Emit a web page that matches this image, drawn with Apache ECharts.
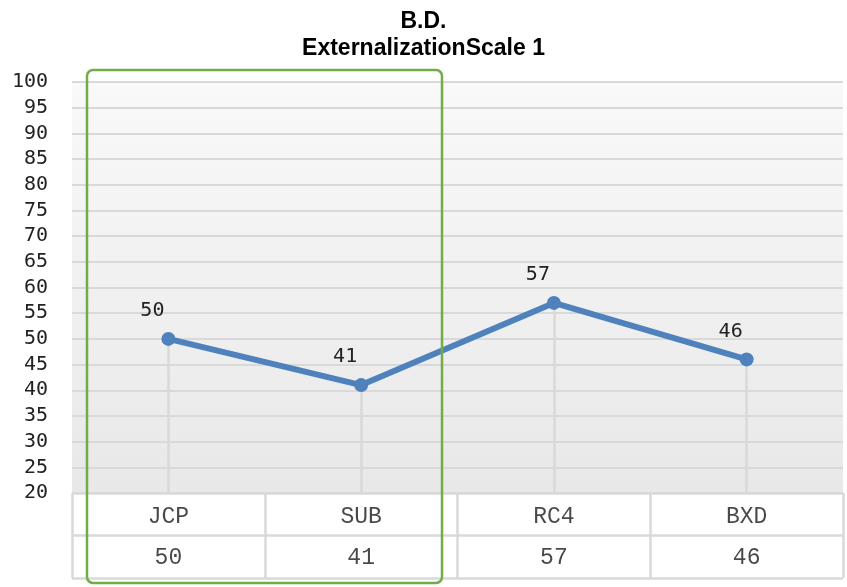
<!DOCTYPE html>
<html>
<head>
<meta charset="utf-8">
<script src="https://cdn.jsdelivr.net/npm/echarts@6/dist/echarts.min.js"></script>
<style>html,body{margin:0;padding:0;background:#fff}#c{width:847px;height:587px}</style>
</head>
<body>
<div id="c"></div>
<script>
var titleLines = ['B.D.', 'ExternalizationScale 1'];
var categories = ['JCP', 'SUB', 'RC4', 'BXD'];
var values = [50, 41, 57, 46];
var yMin = 20, yMax = 100, yStep = 5;

var chart = echarts.init(document.getElementById('c'));
var grey = '#d9d9d9';
var monoLbl = 'DejaVu Sans Mono';
var tableFont = 'Liberation Mono';

var dropLines = values.map(function (v, i) {
  return [{ coord: [categories[i], v] }, { coord: [categories[i], yMin] }];
});
var headerCells = categories.map(function (c) { return [c, 1.5]; });
var valueCells = values.map(function (v, i) { return [categories[i], 0.5, v]; });

chart.setOption({
  animation: false,
  title: {
    text: titleLines.join('\n'),
    left: 'center', top: 3,
    textStyle: { fontFamily: 'Liberation Sans', fontWeight: 'bold', fontSize: 23, lineHeight: 27, color: '#000' }
  },
  grid: [
    { left: 72, right: 4, top: 82, height: 411, show: true, borderWidth: 0,
      backgroundColor: new echarts.graphic.LinearGradient(0, 0, 0, 1, [
        { offset: 0, color: '#f9f9f9' }, { offset: 1, color: '#e8e8e8' }]) },
    { left: 72, right: 4, top: 493, height: 85, show: false }
  ],
  xAxis: [
    { type: 'category', gridIndex: 0, data: categories, boundaryGap: true,
      axisLine: { show: false }, axisTick: { show: false }, axisLabel: { show: false }, splitLine: { show: false } },
    { type: 'category', gridIndex: 1, data: categories, boundaryGap: true,
      axisLine: { show: false }, axisTick: { show: false }, axisLabel: { show: false },
      splitLine: { show: true, interval: 0, lineStyle: { color: grey, width: 2.5 } } }
  ],
  yAxis: [
    { type: 'value', gridIndex: 0, min: yMin, max: yMax, interval: yStep,
      axisLine: { show: false }, axisTick: { show: false },
      axisLabel: { fontFamily: monoLbl, fontSize: 20, color: '#222', margin: 24 },
      splitLine: { lineStyle: { color: grey, width: 2 } } },
    { type: 'value', gridIndex: 1, min: 0, max: 2, interval: 1,
      axisLine: { show: false }, axisTick: { show: false }, axisLabel: { show: false },
      splitLine: { show: true, lineStyle: { color: grey, width: 2.5 } } }
  ],
  series: [
    { type: 'line', xAxisIndex: 0, yAxisIndex: 0, data: values, z: 5,
      symbol: 'circle', symbolSize: 14,
      itemStyle: { color: '#4F81BD' },
      lineStyle: { color: '#4F81BD', width: 6 },
      label: { show: true, position: 'top', offset: [-16, -6], fontFamily: monoLbl, fontSize: 20, color: '#222' },
      markLine: { silent: true, symbol: 'none', label: { show: false }, z: 1,
        lineStyle: { color: grey, width: 2.5, type: 'solid' }, data: dropLines }
    },
    { type: 'scatter', xAxisIndex: 1, yAxisIndex: 1, data: headerCells, symbolSize: 0,
      label: { show: true, position: 'inside', offset: [0, 3], formatter: function (p) { return p.value[0]; },
        fontFamily: tableFont, fontSize: 23, color: '#1a1a1a' } },
    { type: 'scatter', xAxisIndex: 1, yAxisIndex: 1, data: valueCells, symbolSize: 0,
      label: { show: true, position: 'inside', offset: [0, 1], formatter: function (p) { return p.value[2]; },
        fontFamily: tableFont, fontSize: 23, color: '#1a1a1a' } }
  ],
  graphic: [
    { type: 'rect', z: 100, shape: { x: 87, y: 70, width: 355, height: 513, r: 6 },
      style: { fill: 'none', stroke: '#70AD47', lineWidth: 2.5 } }
  ]
});
</script>
</body>
</html>
